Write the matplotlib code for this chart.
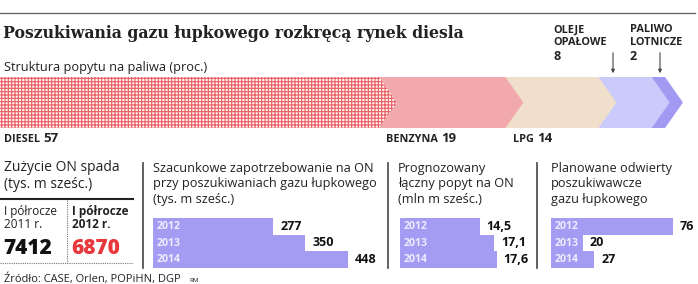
import matplotlib
matplotlib.use("Agg")
from matplotlib import pyplot as plt
from matplotlib.patches import Polygon
import numpy as np

# --- data ---
fuels = ["DIESEL", "BENZYNA", "LPG", "OLEJE\nOPAŁOWE", "PALIWO\nLOTNICZE"]
shares = [57, 19, 14, 8, 2]
fuel_colors = ["#EA5E62", "#F2A9AE", "#F0DFCB", "#CACBFB", "#A29AF2"]

half_years = ["I półrocze\n2011 r.", "I półrocze\n2012 r."]
on_usage = [7412, 6870]

years = ["2012", "2013", "2014"]
on_demand_shale = [277, 350, 448]
on_demand_total = [14.5, 17.1, 17.6]
wells = [76, 20, 27]

W, H = 698, 284
fig = plt.figure(figsize=(W / 100, H / 100), dpi=100)
plt.rcParams['hatch.linewidth'] = 0.8

sans = "Open Sans"
serif = "DejaVu Serif"
dark = "#222222"
bar_color = "#A49BF2"


def px_axes(x0, y0, x1, y1):
    return fig.add_axes([x0 / W, 1 - y1 / H, (x1 - x0) / W, (y1 - y0) / H])


# overlay in pixel coords for texts and rules
ax = px_axes(0, 0, W, H)
ax.set_xlim(0, W)
ax.set_ylim(H, 0)
ax.axis("off")

ax.plot([0, 695], [13, 13], color="#666666", lw=1)
ax.text(3, 33, "Poszukiwania gazu łupkowego rozkręcą rynek diesla", family=serif,
        weight="bold", fontsize=11.3, va="center", color=dark)
ax.text(4, 67, "Struktura popytu na paliwa (proc.)", family=sans, fontsize=9.2,
        va="center", color=dark)

# --- arrow bar ---
scale = 6.65  # px per percent
tip = 18 / scale
ax_arr = px_axes(0, 77, W, 128)
ax_arr.set_xlim(0, W / scale)
ax_arr.set_ylim(0, 1)
ax_arr.axis("off")
cum = np.cumsum(shares)
starts = np.concatenate([[0], cum[:-1]])
for i in range(len(shares)):
    s, e = starts[i], cum[i]
    pts = [(s, 0), (e, 0), (e + tip, 0.5), (e, 1), (s, 1)]
    if i == 0:
        poly = Polygon(pts, facecolor="#FFF4F4", edgecolor=fuel_colors[i],
                       hatch="+++++", lw=0, zorder=10 - i)
    else:
        poly = Polygon(pts, facecolor=fuel_colors[i], lw=0, zorder=10 - i)
    ax_arr.add_patch(poly)

# labels under the bar
def fuel_label(x, y, name, val):
    t = ax.text(x, y, name + " ", family=sans, weight="bold", fontsize=7.8,
                va="baseline", color=dark)
    ax.annotate(str(val), xycoords=t, xy=(1, 0), va="bottom", ha="left",
                family=sans, weight="bold", fontsize=9.5, color=dark)

fuel_label(4, 142, fuels[0], shares[0])
fuel_label(386, 142, fuels[1], shares[1])
fuel_label(513, 142, fuels[2], shares[2])

for xl, name, val in ((553, fuels[3], shares[3]), (630, fuels[4], shares[4])):
    ax.text(xl, 36, name, family=sans, weight="bold", fontsize=7.8,
            va="center", color=dark, linespacing=1.15)
    ax.text(xl, 57, str(val), family=sans, weight="bold", fontsize=9,
            va="center", color=dark)
for xa in (613, 660):
    ax.annotate("", xy=(xa, 76), xytext=(xa, 50),
                arrowprops=dict(arrowstyle="-|>", color="#444444", lw=0.8,
                                mutation_scale=5))

# --- bottom panels ---
for xs in (143, 388, 537):
    ax.plot([xs, xs], [163, 268], color="#555555", lw=1.3)

ax.text(4, 176, "Zużycie ON spada\n(tys. m sześc.)", family=sans, fontsize=10,
        va="center", color=dark, linespacing=1.15)
ax.plot([0, 133], [199, 199], color=dark, lw=1.5)
ax.plot([67, 67], [200, 263], color="#777777", lw=0.8, ls=(0, (1, 1)))
ax.plot([0, 133], [263, 263], color="#777777", lw=0.8, ls=(0, (1, 1)))
ax.text(4, 218, half_years[0], family=sans, fontsize=8.5, va="center",
        color=dark, linespacing=1.0)
ax.text(72, 218, half_years[1], family=sans, fontsize=8.5, weight="bold",
        va="center", color=dark, linespacing=1.0)
ax.text(3, 249, str(on_usage[0]), family=sans, fontsize=15, weight="heavy",
        va="center", color="#111111")
ax.text(71, 249, str(on_usage[1]), family=sans, fontsize=15, weight="heavy",
        va="center", color="#E8383B")

ax.text(153, 184, "Szacunkowe zapotrzebowanie na ON\nprzy poszukiwaniach gazu łupkowego\n(tys. m sześc.)",
        family=sans, fontsize=9.2, va="center", color=dark, linespacing=1.25)
ax.text(398, 184, "Prognozowany\nłączny popyt na ON\n(mln m sześc.)",
        family=sans, fontsize=9.2, va="center", color=dark, linespacing=1.25)
ax.text(551, 184, "Planowane odwierty\nposzukiwawcze\ngazu łupkowego",
        family=sans, fontsize=9.2, va="center", color=dark, linespacing=1.25)


def bar_panel(x0, px_per_unit, width, values, fmt):
    a = px_axes(x0, 218, x0 + width, 268)
    a.set_xlim(0, width / px_per_unit)
    a.set_ylim(2.5, -0.5)
    a.axis("off")
    ypos = np.arange(len(values))
    a.barh(ypos, values, height=1.0, color=bar_color, lw=0)
    for yy, v, yr in zip(ypos, values, years):
        a.annotate(yr, xy=(0, yy), xytext=(4, 0), textcoords="offset pixels",
                   va="center", ha="left", family=sans, weight="bold",
                   fontsize=7.6, color="#EEEDFF")
        a.annotate(fmt(v), xy=(v, yy), xytext=(7, 0), textcoords="offset pixels",
                   va="center", ha="left", family=sans, weight="bold",
                   fontsize=9, color="#111111", annotation_clip=False)
    return a


bar_panel(153, 0.435, 200, on_demand_shale, lambda v: str(v))
bar_panel(400, 5.5, 130, on_demand_total, lambda v: f"{v:.1f}".replace(".", ","))
bar_panel(551, 1.6, 140, wells, lambda v: str(v))

ax.text(4, 279, "Źródło: CASE, Orlen, POPiHN, DGP", family=sans, fontsize=8,
        va="center", color=dark)
ax.text(189, 281, "RM", family=sans, fontsize=4.5, va="center", color=dark)

fig.savefig("out.png", dpi=100)
